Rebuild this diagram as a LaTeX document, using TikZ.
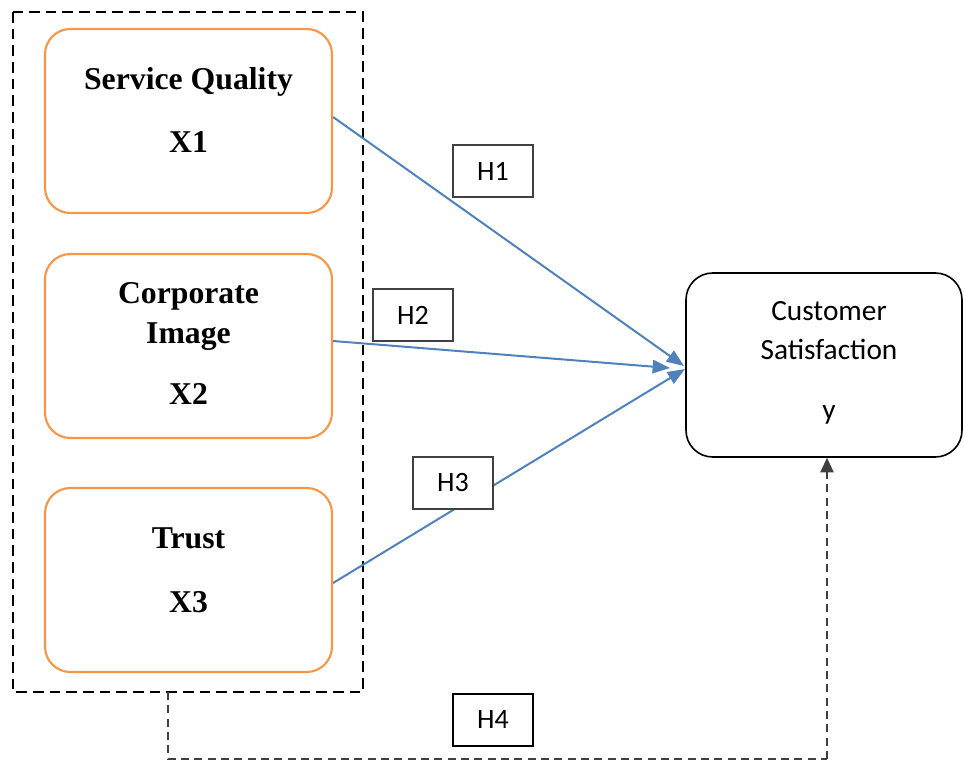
\documentclass[tikz,border=0pt]{standalone}
\usepackage{fontspec}
\setmainfont{Liberation Serif}
\newfontfamily\calib{Carlito}
\usetikzlibrary{arrows.meta}
\definecolor{boxorange}{HTML}{F79646}
\definecolor{arrowblue}{HTML}{4F81BD}
\definecolor{labelgray}{HTML}{404040}
\tikzset{
  varbox/.style={draw=boxorange, line width=1.6pt, rounded corners=19pt, minimum width=215.25pt, minimum height=138pt, inner sep=0pt},
  depbox/.style={draw=black, line width=1.2pt, rounded corners=20pt, minimum width=207pt, minimum height=138pt, inner sep=0pt},
  vartext/.style={font=\fontsize{23.8pt}{28pt}\selectfont\bfseries, anchor=base, inner sep=0pt},
  deptext/.style={font=\calib\fontsize{22pt}{26pt}\selectfont, anchor=base, inner sep=0pt},
  hlabel/.style={draw=labelgray, line width=1pt, minimum width=60pt, minimum height=39pt, inner sep=0pt, font=\calib\fontsize{21pt}{24pt}\selectfont},
  hyparrow/.style={draw=arrowblue, line width=1.5pt, -{Triangle[length=13pt,width=10pt]}},
  groupline/.style={draw=black, line width=1.2pt, dash pattern=on 8pt off 4.5pt},
  linkline/.style={draw=black!75, line width=1.2pt, dash pattern=on 6pt off 4pt}
}
\begin{document}
\begin{tikzpicture}[x=0.75pt,y=-0.75pt]
\useasboundingbox (0,0) rectangle (964,761);
% group rectangle
\draw[groupline] (13,12) rectangle (363,692);
\coordinate (gbot) at (168,692);
% variable boxes
\node[varbox] (sq) at (188.5,121) {};
\node[varbox] (ci) at (188.5,346) {};
\node[varbox] (tr) at (188.5,580) {};
\node[vartext] (sqa) at (188.5,89) {Service Quality};
\node[vartext] (sqb) at (188.5,152) {X1};
\node[vartext] (cia) at (188.5,303) {Corporate};
\node[vartext] (cib) at (188.5,343) {Image};
\node[vartext] (cic) at (188.5,404) {X2};
\node[vartext] (tra) at (188.5,548) {Trust};
\node[vartext] (trb) at (188.5,612) {X3};
% dependent box
\node[depbox] (cs) at (824,365) {};
\node[deptext] (csa) at (829,320) {Customer};
\node[deptext] (csb) at (829,359) {Satisfaction};
\node[deptext] (csc) at (829,419) {y};
% connectors
\coordinate (tip1) at (684,366);
\coordinate (tip2) at (670,368);
\coordinate (tip3) at (685,369);
\draw[hyparrow] (sq.east |- 0,117) -- (tip1);
\draw[hyparrow] (ci.east |- 0,341) -- (tip2);
\draw[hyparrow] (tr.east |- 0,583) -- (tip3);
% hypothesis labels
\node[hlabel, fill=white] (h1) at (493,171) {H1};
\node[hlabel, fill=white] (h2) at (413,315) {H2};
\node[hlabel, fill=white] (h3) at (453,483) {H3};
% H4 path
\coordinate (c1) at (168,759);
\coordinate (c2) at (827,759);
\draw[linkline] (gbot) -- (c1) -- (c2);
\draw[linkline, -{Triangle[length=11pt,width=10pt]}] (c2) -- (cs.south -| c2);
\node[hlabel, draw=black, fill=white] (h4) at (493,720) {H4};
\end{tikzpicture}
\end{document}
